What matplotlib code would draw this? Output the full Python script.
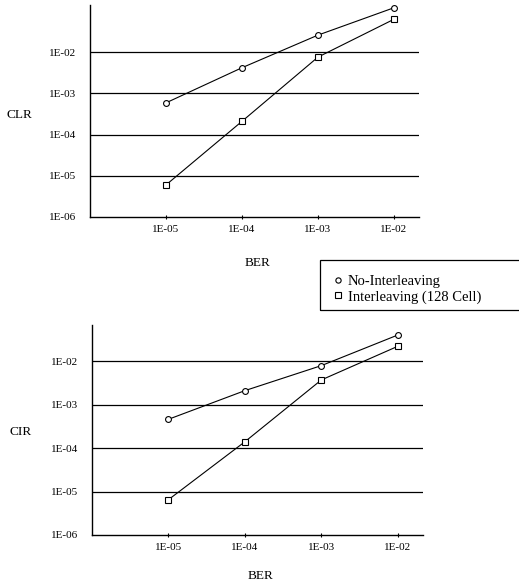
import matplotlib
matplotlib.use("Agg")
import matplotlib.pyplot as plt
from matplotlib.patches import Rectangle

# values
ber = [1e-5, 1e-4, 1e-3, 1e-2]
ber_labels = ["1E-05", "1E-04", "1E-03", "1E-02"]
y_ticks = [1e-6, 1e-5, 1e-4, 1e-3, 1e-2]
y_labels = ["1E-06", "1E-05", "1E-04", "1E-03", "1E-02"]

clr_no_inter = [5.9e-4, 4.2e-3, 2.6e-2, 0.12]
clr_inter = [6.0e-6, 2.1e-4, 7.6e-3, 6.3e-2]
cir_no_inter = [4.6e-4, 2.1e-3, 7.9e-3, 4.0e-2]
cir_inter = [6.5e-6, 1.4e-4, 3.7e-3, 2.2e-2]

plt.rcParams['font.family'] = ['Liberation Serif', 'DejaVu Serif']

W, H = 519, 588
fig = plt.figure(figsize=(W / 100, H / 100), dpi=100)


def make_axes(px_left, px_right, px_top, px_bottom):
    return fig.add_axes([px_left / W, 1 - px_bottom / H,
                         (px_right - px_left) / W, (px_bottom - px_top) / H])


def draw_panel(ax, no_inter, inter, ylabel, ytop, ylab_y, xlab_y):
    ax.set_xscale('log')
    ax.set_yscale('log')
    ax.set_xlim(1e-6, 10 ** (-2 + 0.33))
    ax.set_ylim(1e-6, ytop)

    # horizontal decade lines
    for v in y_ticks[1:]:
        ax.axhline(v, color='black', lw=0.9, zorder=1)

    ax.plot(ber, no_inter, color='black', lw=0.8, marker='o', ms=4.2,
            mfc='white', mec='black', mew=0.8, zorder=3)
    ax.plot(ber, inter, color='black', lw=0.8, marker='s', ms=5,
            mfc='white', mec='black', mew=0.8, zorder=3)

    ax.spines['top'].set_visible(False)
    ax.spines['right'].set_visible(False)
    ax.spines['left'].set_linewidth(1.0)
    ax.spines['bottom'].set_linewidth(1.0)

    ax.set_xticks(ber)
    ax.set_xticklabels(ber_labels)
    ax.set_yticks(y_ticks)
    ax.set_yticklabels(y_labels)
    ax.minorticks_off()
    ax.tick_params(axis='x', direction='inout', length=3, width=0.8,
                   labelsize=8, pad=4)
    ax.tick_params(axis='y', length=0, labelsize=8, pad=10)

    ax.set_ylabel(ylabel, rotation=0, fontsize=9.5, va='center')
    ax.yaxis.set_label_coords(-0.215, ylab_y)
    ax.set_xlabel("BER", fontsize=9.5)
    ax.xaxis.set_label_coords(0.51, xlab_y)


ax1 = make_axes(90, 419, 5, 217)
draw_panel(ax1, clr_no_inter, clr_inter, "CLR", 0.14, 0.48, -0.19)

ax2 = make_axes(92, 423, 325, 535)
draw_panel(ax2, cir_no_inter, cir_inter, "CIR", 0.068, 0.49, -0.165)

# legend box running off the right edge, as in the scan
fig.patches.append(Rectangle((320 / W, 1 - 310 / H), 0.5, 50 / H,
                             transform=fig.transFigure, fill=False,
                             edgecolor='black', lw=0.9))
h1, = ax1.plot([], [], ls='none', marker='o', ms=3.8, mfc='white',
               mec='black', mew=0.8)
h2, = ax1.plot([], [], ls='none', marker='s', ms=4.6, mfc='white',
               mec='black', mew=0.8)
fig.legend([h1, h2], ["No-Interleaving", "Interleaving (128 Cell)"],
           loc='upper left', bbox_to_anchor=(326 / W, 1 - 266 / H),
           frameon=False, fontsize=10.5, handlelength=0.5, handletextpad=0.4,
           labelspacing=0.15, borderpad=0.1)

fig.savefig("out.png", dpi=100)
